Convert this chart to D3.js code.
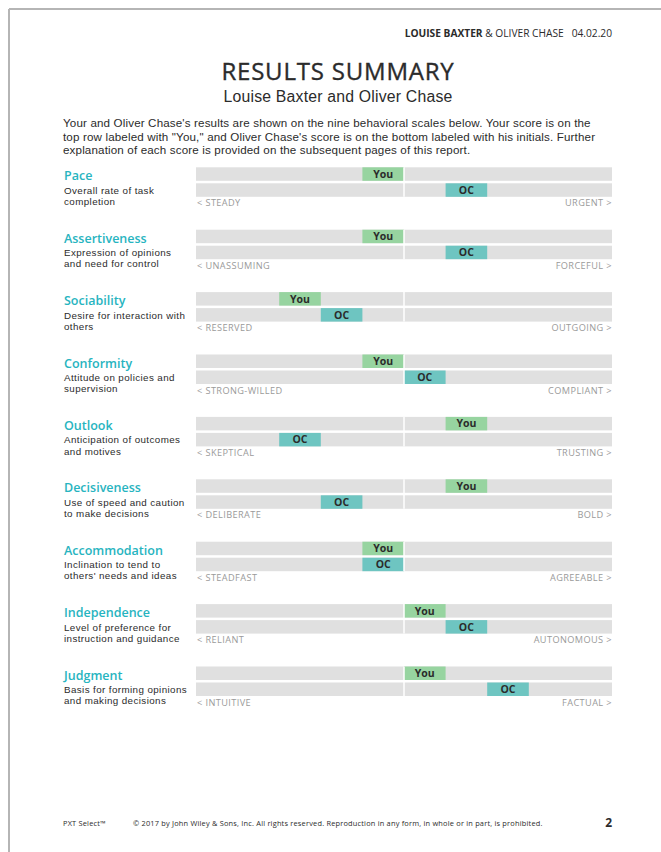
<!DOCTYPE html>
<html>
<head>
<meta charset="utf-8">
<script src="https://cdn.jsdelivr.net/npm/d3@7"></script>
<style>
  body { margin: 0; background: #fff; }
  svg { display: block; font-family: "Open Sans", "DejaVu Sans", sans-serif; }
  .body-text { font-family: "Liberation Sans", Arial, sans-serif; }
</style>
</head>
<body>
<div id="viz"></div>
<script>
// Scale names, descriptions and end labels
const scaleNames = ["Pace", "Assertiveness", "Sociability", "Conformity", "Outlook",
  "Decisiveness", "Accommodation", "Independence", "Judgment"];
const descriptions = [
  ["Overall rate of task", "completion"],
  ["Expression of opinions", "and need for control"],
  ["Desire for interaction with", "others"],
  ["Attitude on policies and", "supervision"],
  ["Anticipation of outcomes", "and motives"],
  ["Use of speed and caution", "to make decisions"],
  ["Inclination to tend to", "others' needs and ideas"],
  ["Level of preference for", "instruction and guidance"],
  ["Basis for forming opinions", "and making decisions"]
];
const leftLabels = ["< STEADY", "< UNASSUMING", "< RESERVED", "< STRONG-WILLED", "< SKEPTICAL",
  "< DELIBERATE", "< STEADFAST", "< RELIANT", "< INTUITIVE"];
const rightLabels = ["URGENT >", "FORCEFUL >", "OUTGOING >", "COMPLIANT >", "TRUSTING >",
  "BOLD >", "AGREEABLE >", "AUTONOMOUS >", "FACTUAL >"];
// scores on a 1..10 scale
const youScores = [5, 5, 3, 5, 7, 7, 5, 6, 6];
const ocScores  = [7, 7, 4, 6, 3, 4, 5, 7, 8];
const steps = d3.range(1, 11);

const introLines = [
  "Your and Oliver Chase's results are shown on the nine behavioral scales below. Your score is on the",
  "top row labeled with \"You,\" and Oliver Chase's score is on the bottom labeled with his initials. Further",
  "explanation of each score is provided on the subsequent pages of this report."
];

const COLORS = {
  you: "#97d4a0",
  oc: "#6ec5c1",
  track: "#e0e0e0",
  title: "#27b4c0",
  text: "#2b2b2b",
  muted: "#9a9a9a"
};
const WIDTH = 661, HEIGHT = 852;

const svg = d3.select("#viz").append("svg")
  .attr("width", WIDTH)
  .attr("height", HEIGHT);

// page edge
svg.append("line").attr("x1", 9).attr("x2", WIDTH).attr("y1", 9).attr("y2", 9)
  .attr("stroke", "#b5b5b5").attr("stroke-width", 2);
svg.append("line").attr("x1", 9).attr("x2", 9).attr("y1", 9).attr("y2", HEIGHT)
  .attr("stroke", "#b5b5b5").attr("stroke-width", 2);

// header
const header = svg.append("text")
  .attr("x", 612).attr("y", 37)
  .attr("text-anchor", "end")
  .style("font-size", "10.2px")
  .attr("fill", COLORS.text);
header.append("tspan").style("font-weight", "bold").text("LOUISE BAXTER");
header.append("tspan").text(" & OLIVER CHASE");
header.append("tspan").attr("dx", 8).text("04.02.20");

svg.append("text")
  .attr("x", 338).attr("y", 79.8)
  .attr("text-anchor", "middle")
  .style("font-size", "24px")
  .style("font-weight", 500)
  .style("letter-spacing", "0.8px")
  .style("stroke", COLORS.text)
  .style("stroke-width", "0.35px")
  .attr("fill", COLORS.text)
  .text("RESULTS SUMMARY");

svg.append("text")
  .attr("class", "body-text")
  .attr("x", 338).attr("y", 101.8)
  .attr("text-anchor", "middle")
  .style("font-size", "15.8px")
  .style("letter-spacing", "0.2px")
  .attr("fill", COLORS.text)
  .text("Louise Baxter and Oliver Chase");

svg.append("g").selectAll("text")
  .data(introLines)
  .join("text")
  .attr("class", "body-text")
  .attr("x", 63)
  .attr("y", (d, i) => 127 + i * 13.5)
  .style("font-size", "11.6px")
  .style("letter-spacing", "0.15px")
  .attr("fill", COLORS.text)
  .text(d => d);

// scales
const x = d3.scaleBand()
  .domain(steps)
  .range([196, 612])
  .padding(0);
const mid = x(6);
const rowH = 13.5, rowGap = 2.5;

const y = d3.scaleBand()
  .domain(scaleNames)
  .range([167.3, 167.3 + 62.4 * scaleNames.length])
  .padding(0);

const blocks = svg.append("g").selectAll("g")
  .data(scaleNames)
  .join("g")
  .attr("transform", d => `translate(0,${y(d)})`);

blocks.append("text")
  .attr("x", 64).attr("y", 13)
  .style("font-size", "12.5px")
  .style("font-weight", 600)
  .attr("fill", COLORS.title)
  .text(d => d);

blocks.append("g").selectAll("text")
  .data((d, i) => descriptions[i])
  .join("text")
  .attr("class", "body-text")
  .attr("x", 64)
  .attr("y", (d, j) => 26.6 + j * 11.1)
  .style("font-size", "9.8px")
  .style("letter-spacing", "0.4px")
  .attr("fill", COLORS.text)
  .text(d => d);

[0, 1].forEach(r => {
  const top = r * (rowH + rowGap);
  blocks.append("rect")
    .attr("x", x.range()[0]).attr("y", top)
    .attr("width", x.range()[1] - x.range()[0]).attr("height", rowH)
    .attr("fill", COLORS.track);
  blocks.append("rect")
    .attr("x", (d, i) => x(r === 0 ? youScores[i] : ocScores[i]))
    .attr("y", top)
    .attr("width", x.bandwidth()).attr("height", rowH)
    .attr("fill", r === 0 ? COLORS.you : COLORS.oc);
  blocks.append("text")
    .attr("x", (d, i) => x(r === 0 ? youScores[i] : ocScores[i]) + x.bandwidth() / 2)
    .attr("y", top + rowH / 2 + 3.7)
    .attr("text-anchor", "middle")
    .style("font-size", "10.5px")
    .style("font-weight", "bold")
    .attr("fill", COLORS.text)
    .text(r === 0 ? "You" : "OC");
});

// center divider
blocks.append("line")
  .attr("x1", mid).attr("x2", mid)
  .attr("y1", 0).attr("y2", rowH * 2 + rowGap)
  .attr("stroke", "#fff").attr("stroke-width", 1.5);

blocks.append("text")
  .attr("x", 197).attr("y", 39)
  .style("font-size", "9.2px")
  .style("letter-spacing", "0.4px")
  .attr("fill", COLORS.muted)
  .text((d, i) => leftLabels[i]);

blocks.append("text")
  .attr("x", 612).attr("y", 39)
  .attr("text-anchor", "end")
  .style("font-size", "9.2px")
  .style("letter-spacing", "0.4px")
  .attr("fill", COLORS.muted)
  .text((d, i) => rightLabels[i]);

// footer
svg.append("text")
  .attr("x", 63).attr("y", 826)
  .style("font-size", "7.4px")
  .style("letter-spacing", "0.2px")
  .attr("fill", COLORS.text)
  .text("PXT Select™");
svg.append("text")
  .attr("x", 133).attr("y", 826)
  .style("font-size", "7.4px")
  .style("letter-spacing", "0.2px")
  .attr("fill", COLORS.text)
  .text("© 2017 by John Wiley & Sons, Inc. All rights reserved. Reproduction in any form, in whole or in part, is prohibited.");
svg.append("text")
  .attr("x", 612).attr("y", 827)
  .attr("text-anchor", "end")
  .style("font-size", "12px")
  .style("font-weight", "bold")
  .attr("fill", COLORS.text)
  .text("2");
</script>
</body>
</html>
